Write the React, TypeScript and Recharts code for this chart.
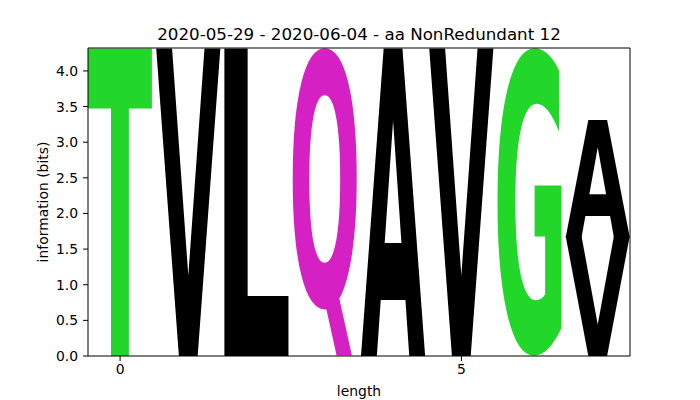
import React from 'react';
import { BarChart, Bar, XAxis, YAxis, ReferenceLine } from 'recharts';

const positions = [0, 1, 2, 3, 4, 5, 6, 7];
const lowerLetters = ['T', 'V', 'L', 'Q', 'A', 'V', 'G', 'V'];
const lowerBits = [4.32, 4.32, 4.32, 4.32, 4.32, 4.32, 4.32, 1.675];
const upperLetters = ['', '', '', '', '', '', '', 'A'];
const upperBits = [0, 0, 0, 0, 0, 0, 0, 1.65];
const yTicks = [0, 0.5, 1, 1.5, 2, 2.5, 3, 3.5, 4];
const xTicks = [0, 5];

const letterColors: Record<string, string> = {
  T: '#22d62a',
  G: '#22d62a',
  Q: '#d520c4',
};

const FONT = 'DejaVu Sans';
const GLYPH_SIZE = 400;
const X_MIN = -0.47;
const X_MAX = 7.47;
const Y_MAX = 4.3219;

const data = positions.map((pos, i) => ({
  pos,
  lower: lowerBits[i],
  upper: upperBits[i],
  lowerLetter: lowerLetters[i],
  upperLetter: upperLetters[i],
}));

// tight ink bounds of a glyph: draw it once on a canvas and scan the pixels
const boxCache: Record<string, { left: number; right: number; ascent: number; descent: number }> = {};
function glyphBox(ch: string) {
  if (boxCache[ch]) return boxCache[ch];
  const W = 900;
  const H = 900;
  const ox = 200;
  const oy = 600;
  const canvas = document.createElement('canvas');
  canvas.width = W;
  canvas.height = H;
  const c = canvas.getContext('2d')!;
  c.font = `bold ${GLYPH_SIZE}px "${FONT}"`;
  c.fillStyle = '#000';
  c.fillText(ch, ox, oy);
  const px = c.getImageData(0, 0, W, H).data;
  let minX = W, maxX = -1, minY = H, maxY = -1;
  for (let yy = 0; yy < H; yy++) {
    for (let xx = 0; xx < W; xx++) {
      if (px[(yy * W + xx) * 4 + 3] > 127) {
        if (xx < minX) minX = xx;
        if (xx > maxX) maxX = xx;
        if (yy < minY) minY = yy;
        if (yy > maxY) maxY = yy;
      }
    }
  }
  const box = { left: ox - minX, right: maxX + 1 - ox, ascent: oy - minY, descent: maxY + 1 - oy };
  boxCache[ch] = box;
  return box;
}

function Glyph(props: any) {
  const { x, y, width, height, payload, which } = props;
  const ch = payload[which + 'Letter'];
  if (!ch || !height || height <= 0) return null;
  const b = glyphBox(ch);
  const sx = width / (b.left + b.right);
  const sy = height / (b.ascent + b.descent);
  return (
    <text
      x={0}
      y={0}
      fontFamily={FONT}
      fontWeight="bold"
      fontSize={GLYPH_SIZE}
      fill={letterColors[ch] || '#000'}
      transform={`translate(${x + b.left * sx},${y + b.ascent * sy}) scale(${sx},${sy})`}
    >
      {ch}
    </text>
  );
}

const tickStyle = { fontFamily: FONT, fontSize: 13.9, fill: '#000' };

export default function App() {
  return (
    <div style={{ position: 'absolute', left: 0, top: 0, width: 700, height: 400, background: '#fff' }}>
      <div
        style={{
          position: 'absolute',
          left: 0,
          top: 24,
          width: 718,
          textAlign: 'center',
          fontFamily: FONT,
          fontSize: 16.7,
          color: '#000',
          lineHeight: '20px',
        }}
      >
        2020-05-29 - 2020-06-04 - aa NonRedundant 12
      </div>
      <BarChart width={700} height={400} data={data} margin={{ top: 48, right: 70, bottom: 0, left: 0 }}>
        <XAxis
          dataKey="pos"
          type="number"
          domain={[X_MIN, X_MAX]}
          ticks={xTicks}
          allowDataOverflow
          height={44}
          tick={tickStyle}
          tickSize={5}
          tickMargin={3}
          stroke="#000"
          label={{ value: 'length', position: 'insideBottom', offset: 4, style: tickStyle }}
        />
        <YAxis
          type="number"
          domain={[0, Y_MAX]}
          ticks={yTicks}
          allowDataOverflow
          width={88}
          tick={tickStyle}
          tickSize={5}
          tickMargin={5}
          tickFormatter={(v: number) => v.toFixed(1)}
          stroke="#000"
          label={{ value: 'information (bits)', angle: -90, position: 'center', dx: -1, style: tickStyle }}
        />
        <Bar dataKey="lower" stackId="s" barSize={64} isAnimationActive={false} shape={(p: any) => <Glyph {...p} which="lower" />} />
        <Bar dataKey="upper" stackId="s" barSize={64} isAnimationActive={false} shape={(p: any) => <Glyph {...p} which="upper" />} />
        <ReferenceLine y={Y_MAX} stroke="#000" strokeWidth={1} ifOverflow="visible" />
        <ReferenceLine x={X_MAX} stroke="#000" strokeWidth={1} ifOverflow="visible" />
      </BarChart>
    </div>
  );
}
